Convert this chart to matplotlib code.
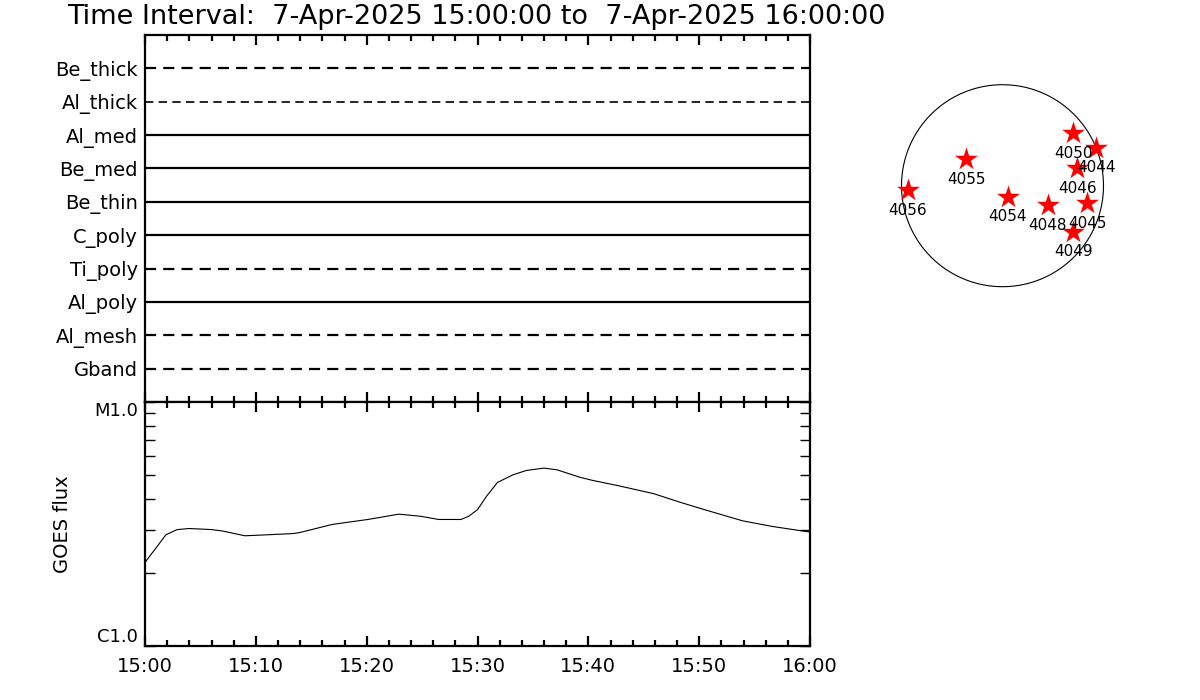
import matplotlib
matplotlib.use("Agg")
import matplotlib.pyplot as plt
import numpy as np
from matplotlib.ticker import LogLocator, NullFormatter, MultipleLocator, FixedLocator

plt.rcParams['font.family'] = ['DejaVu Sans']

# ---- data ----
title = "Time Interval:  7-Apr-2025 15:00:00 to  7-Apr-2025 16:00:00"
channels = ["Gband", "Al_mesh", "Al_poly", "Ti_poly", "C_poly",
            "Be_thin", "Be_med", "Al_med", "Al_thick", "Be_thick"]
channel_style = ["dashed", "dashed", "solid", "dashed", "solid",
                 "solid", "solid", "solid", "dashed", "dashed"]

goes_minutes = [0, 1.9, 2.9, 4.0, 6.0, 7.0, 9.0, 10.6, 13.4, 14.0, 16.9, 20.1,
                22.9, 24.9, 26.5, 28.5, 29.2, 30.0, 30.8, 31.8, 33.2, 34.4,
                36.0, 37.2, 39.2, 40.4, 42.7, 45.9, 48.3, 50.3, 53.9, 56.6, 60.0]
goes_flux = [2.20e-6, 2.86e-6, 3.00e-6, 3.03e-6, 3.00e-6, 2.96e-6, 2.83e-6,
             2.85e-6, 2.89e-6, 2.92e-6, 3.15e-6, 3.30e-6, 3.47e-6, 3.40e-6,
             3.30e-6, 3.30e-6, 3.40e-6, 3.62e-6, 4.10e-6, 4.68e-6, 5.03e-6,
             5.24e-6, 5.36e-6, 5.27e-6, 4.92e-6, 4.77e-6, 4.54e-6, 4.21e-6,
             3.88e-6, 3.64e-6, 3.26e-6, 3.09e-6, 2.93e-6]
time_ticks = [0, 10, 20, 30, 40, 50, 60]
time_labels = ["15:00", "15:10", "15:20", "15:30", "15:40", "15:50", "16:00"]
flux_ticks = [1e-6, 1e-5]
flux_labels = ["C1.0", "M1.0"]

ar_numbers = ["4050", "4044", "4046", "4055", "4056", "4054", "4048", "4045", "4049"]
ar_x = [0.701, 0.926, 0.741, -0.361, -0.939, 0.051, 0.447, 0.840, 0.701]
ar_y = [0.519, 0.376, 0.172, 0.261, -0.043, -0.109, -0.191, -0.174, -0.455]

# ---- figure ----
W, H = 1200, 700
fig = plt.figure(figsize=(12, 7), dpi=100)

def px_axes(x0, y0, x1, y1):
    return fig.add_axes([x0 / W, 1 - y1 / H, (x1 - x0) / W, (y1 - y0) / H])

fig.text(67 / W, 1 - 17 / H, title, fontsize=19.5, va='center', ha='left')

# top panel
ax1 = px_axes(145, 35, 810, 402)
for i, (name, st) in enumerate(zip(channels, channel_style)):
    lw = 1.2 if name == "Al_thick" else 1.6
    if st == "dashed":
        ax1.plot([0, 60], [i + 1, i + 1], color='black', lw=lw,
                 linestyle=(0, (5, 3.2)))
    else:
        ax1.plot([0, 60], [i + 1, i + 1], color='black', lw=lw)
ax1.set_xlim(0, 60)
ax1.set_ylim(0, len(channels) + 1)
ax1.set_yticks(range(1, len(channels) + 1))
ax1.set_yticklabels(channels, fontsize=14)
ax1.tick_params(axis='y', length=0, pad=5)
ax1.xaxis.set_major_locator(MultipleLocator(10))
ax1.xaxis.set_minor_locator(MultipleLocator(2))
ax1.tick_params(axis='x', which='both', direction='in', top=True, bottom=True,
                labelbottom=False, width=1.6)
ax1.tick_params(axis='x', which='major', length=7)
ax1.tick_params(axis='x', which='minor', length=4)
for s in ax1.spines.values():
    s.set_linewidth(1.6)

# GOES panel
ax2 = px_axes(145, 402, 810, 646)
ax2.plot(goes_minutes, goes_flux, color='black', lw=0.8)
ax2.set_yscale('log')
ax2.set_ylim(1e-6, 1e-5)
ax2.set_xlim(0, 60)
ax2.yaxis.set_major_locator(FixedLocator(flux_ticks))
ylabs = ax2.set_yticklabels(flux_labels, fontsize=13)
ylabs[0].set_va('bottom')
ylabs[1].set_va('top')
ax2.yaxis.set_minor_locator(LogLocator(base=10, subs=np.arange(2, 10)))
ax2.yaxis.set_minor_formatter(NullFormatter())
ax2.set_xticks(time_ticks)
ax2.set_xticklabels(time_labels, fontsize=14)
ax2.xaxis.set_minor_locator(MultipleLocator(2))
ax2.tick_params(axis='x', which='both', direction='in', top=True, bottom=True, width=1.6, pad=8)
ax2.tick_params(axis='x', which='major', length=7)
ax2.tick_params(axis='x', which='minor', length=4)
ax2.tick_params(axis='y', which='both', direction='in', left=True, right=True, width=1.0, pad=5)
ax2.tick_params(axis='y', which='major', length=7)
ax2.tick_params(axis='y', which='minor', length=7)
ax2.set_ylabel("GOES flux", fontsize=14, labelpad=16)
for s in ax2.spines.values():
    s.set_linewidth(1.6)

# solar disk
R = 101
ax3 = px_axes(1002.5 - 1.15 * R, 185.7 - 1.15 * R, 1002.5 + 1.15 * R, 185.7 + 1.15 * R)
th = np.linspace(0, 2 * np.pi, 400)
ax3.plot(np.cos(th), np.sin(th), color='black', lw=0.8)
ax3.scatter(ar_x, ar_y, marker='*', s=300, color='red', zorder=3, linewidths=0)
for x, y, lab in zip(ar_x, ar_y, ar_numbers):
    ax3.annotate(lab, (x, y), xytext=(0, -14.5), textcoords='offset points',
                 ha='center', va='center', fontsize=11)
ax3.set_xlim(-1.15, 1.15)
ax3.set_ylim(-1.15, 1.15)
ax3.set_aspect('equal')
ax3.axis('off')

fig.savefig("out.png", dpi=100)
